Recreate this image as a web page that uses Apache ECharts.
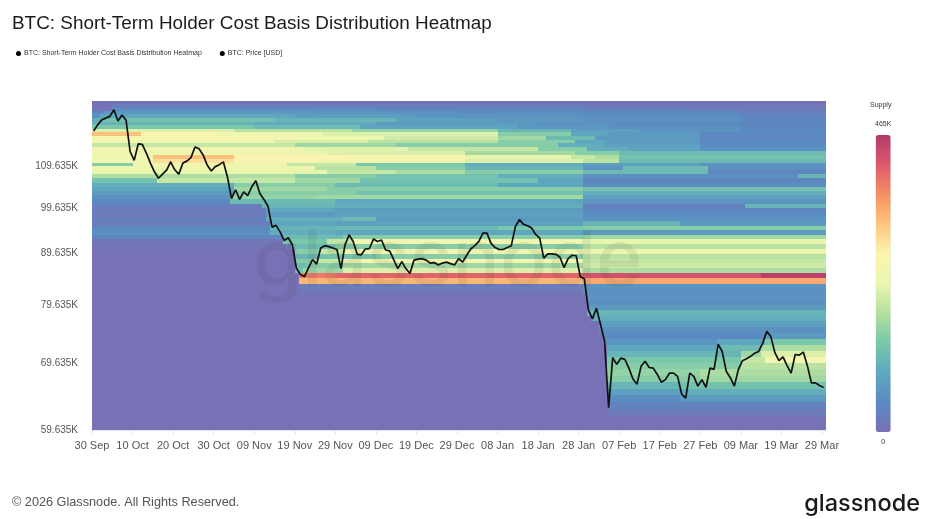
<!DOCTYPE html>
<html><head><meta charset="utf-8">
<script src="https://cdn.jsdelivr.net/npm/echarts@6/dist/echarts.min.js"></script>
<style>html,body{margin:0;padding:0;background:#fff}#c{width:934px;height:519px}</style>
</head><body><div id="c"></div>
<script>
// ---- data ----
const xTickLabels = ['30 Sep','10 Oct','20 Oct','30 Oct','09 Nov','19 Nov','29 Nov','09 Dec','19 Dec','29 Dec',
  '08 Jan','18 Jan','28 Jan','07 Feb','17 Feb','27 Feb','09 Mar','19 Mar','29 Mar'];
const yTicks = [59635, 69635, 79635, 89635, 99635, 109635];
const dayCount = 181;            // daily columns from 30 Sep
const binFirst = 59635;          // lowest price bin edge (USD)
const binWidth = 1000;           // price bin size (USD)
const supplyMax = 465000;

// BTC price, thousands of USD, one per day
const priceK = [
 119.0,120.7,122.1,122.6,123.1,125.0,121.8,123.5,122.0,113.5,
 111.2,115.5,115.4,113.1,110.5,108.3,106.7,107.7,108.7,110.8,
 108.8,107.7,110.5,111.0,111.9,114.7,114.2,112.6,110.0,108.5,
 109.6,110.1,110.8,107.0,101.8,103.9,101.6,103.4,102.5,104.6,
 106.1,103.0,101.6,100.0,95.3,95.7,94.2,92.4,93.0,91.5,
 86.7,85.4,85.0,86.8,88.4,87.5,90.8,91.3,91.1,90.8,
 90.5,86.6,91.5,93.6,92.2,89.5,89.4,90.6,90.7,92.7,
 92.2,92.5,90.4,90.2,88.4,86.6,88.0,86.6,85.6,88.3,
 88.5,88.6,88.3,87.7,87.8,87.3,87.7,87.9,87.6,87.3,
 88.6,87.9,89.3,90.6,91.3,92.2,94.0,94.0,91.8,90.9,
 90.5,90.5,90.9,91.3,95.4,97.0,95.9,95.6,95.1,93.7,
 92.9,88.7,89.6,89.6,89.5,88.9,86.8,88.6,89.3,89.2,
 85.0,84.6,78.7,77.1,79.0,76.1,73.2,62.8,70.5,69.4,
 70.4,70.2,68.8,67.1,66.3,69.1,69.9,68.9,68.8,67.8,
 66.6,67.0,68.0,68.0,67.5,64.8,64.2,68.0,67.5,66.0,
 67.0,65.8,68.8,68.6,72.7,71.5,68.3,67.3,66.0,68.6,
 70.0,70.3,70.7,71.2,71.5,72.9,74.9,74.0,71.3,70.0,
 70.6,69.2,68.0,71.0,70.9,71.4,69.2,66.5,66.5,66.1,65.8
];

// STH supply per price bin (thousands of BTC), as runs: [firstDay, value] held until the next run
// index 0 = bin 59.6K-60.6K ... index 67 = bin 126.6K-127.6K
const supplyRuns = [
 [[0,5]],                                   // 59.6
 [[0,5]],                                   // 60.6
 [[0,5],[127,20]],                          // 61.6
 [[0,5],[127,35]],                          // 62.6
 [[0,5],[127,50],[145,70]],                 // 63.6
 [[0,5],[127,80],[145,100]],                // 64.6
 [[0,5],[127,110],[145,130]],               // 65.6
 [[0,5],[127,150],[150,170]],               // 66.6
 [[0,5],[127,160],[150,180]],               // 67.6
 [[0,5],[127,150],[160,190]],               // 68.6
 [[0,5],[127,140],[160,200],[166,260]],     // 69.6
 [[0,5],[127,110],[160,170],[165,220]],     // 70.6
 [[0,5],[127,90],[154,120],[165,180]],      // 71.6
 [[0,5],[126,60],[154,90],[166,140]],       // 72.6
 [[0,5],[126,45],[166,70]],                 // 73.6
 [[0,5],[125,55]],                          // 74.6
 [[0,5],[125,80]],                          // 75.6
 [[0,5],[123,100]],                         // 76.6
 [[0,5],[122,110]],                         // 77.6
 [[0,5],[122,70]],                          // 78.6
 [[0,5],[122,55]],                          // 79.6
 [[0,5],[122,60]],                          // 80.6
 [[0,5],[51,15],[121,55]],                  // 81.6
 [[0,5],[51,25],[121,60]],                  // 82.6
 [[0,5],[51,340],[121,350]],                // 83.6
 [[0,5],[51,390],[60,410],[121,430],[165,455]], // 84.6
 [[0,5],[50,130],[52,170],[62,220],[121,180]],  // 85.6
 [[0,5],[50,120],[53,150],[62,170],[121,210]],  // 86.6
 [[0,5],[50,150],[54,200],[62,260],[121,200]],  // 87.6
 [[0,5],[50,110],[56,130],[70,150],[121,190]],  // 88.6
 [[0,5],[50,150],[56,200],[62,245],[121,240]],  // 89.6
 [[0,10],[49,120],[60,150],[121,190]],      // 90.6
 [[0,10],[47,140],[58,200],[64,250],[121,230]], // 91.6
 [[0,40],[47,120],[62,150],[121,170]],      // 92.6
 [[0,55],[44,100],[60,90],[121,70]],        // 93.6
 [[0,45],[44,110],[60,120],[100,140],[121,150]], // 94.6
 [[0,25],[44,90],[60,80],[121,110],[145,70]],  // 95.6
 [[0,30],[43,100],[62,120],[70,70],[121,60]],  // 96.6
 [[0,20],[43,70],[60,80],[121,50]],         // 97.6
 [[0,25],[43,90],[60,70],[121,40]],         // 98.6
 [[0,25],[42,110],[60,100],[121,30],[161,110]], // 99.6
 [[0,45],[34,120],[60,90],[121,60]],        // 100.6
 [[0,60],[34,160],[55,170],[121,80]],       // 101.6
 [[0,70],[35,150],[65,130],[121,100]],      // 102.6
 [[0,90],[35,170],[58,150],[121,130]],      // 103.6
 [[0,100],[35,150],[60,120],[100,90],[121,50]], // 104.6
 [[0,130],[16,200],[50,170],[66,130],[110,90],[121,40]], // 105.6
 [[0,180],[50,150],[70,130],[100,100],[121,55],[174,110]], // 106.6
 [[0,230],[58,200],[75,180],[92,150],[121,120],[152,40]], // 107.6
 [[0,240],[55,190],[70,150],[92,110],[121,60],[131,120],[152,55]], // 108.6
 [[0,150],[10,250],[48,200],[65,140],[92,100],[121,80],[150,60]], // 109.6
 [[0,250],[15,300],[35,270],[56,255],[92,220],[121,190],[130,120]], // 110.6
 [[0,250],[15,330],[35,280],[63,260],[92,230],[118,200],[124,180],[130,130]], // 111.6
 [[0,240],[58,220],[92,175],[119,150],[130,120]], // 112.6
 [[0,250],[52,225],[78,200],[110,150],[122,100],[132,85],[150,55]], // 113.6
 [[0,200],[50,170],[75,150],[115,100],[126,80],[150,50]], // 114.6
 [[0,240],[45,215],[68,190],[100,150],[119,90],[127,70],[150,45]], // 115.6
 [[0,260],[50,235],[72,210],[100,170],[112,120],[124,70],[150,40]], // 116.6
 [[0,330],[12,280],[30,250],[57,220],[100,150],[118,90],[127,70],[150,45]], // 117.6
 [[0,220],[35,190],[64,160],[100,110],[118,80],[135,60],[160,45]], // 118.6
 [[0,140],[40,120],[66,85],[105,65],[128,55],[160,40]], // 119.6
 [[0,110],[40,95],[70,70],[110,55],[130,45],[160,35]],  // 120.6
 [[0,100],[2,130],[45,110],[75,80],[100,65],[121,55],[160,40]], // 121.6
 [[0,60],[2,90],[50,75],[80,60],[121,50],[160,35]], // 122.6
 [[0,40],[3,70],[55,60],[90,50],[121,45],[160,30]], // 123.6
 [[0,10],[5,50],[70,40],[121,30],[150,20]], // 124.6
 [[0,5],[5,25],[121,15]],                   // 125.6
 [[0,5]]                                    // 126.6
];

const supplyColors = ['#7a6fb3','#5a8bc2','#5fa8bf','#78c8aa','#b5e0a1','#eaf6ae',
  '#fbf4b0','#fdc67f','#f58f62','#dd5a6b','#b2396b'];

// ---- build library inputs ----
const cells = [];
supplyRuns.forEach((runs, b) => {
  const lo = binFirst + b * binWidth, hi = lo + binWidth;
  runs.forEach((r, k) => {
    const end = k + 1 < runs.length ? runs[k + 1][0] : dayCount;
    cells.push([r[0], end, lo, hi, r[1] * 1000]);
  });
});
const priceData = priceK.map((p, i) => [i + 0.4, p * 1000]);

const heatName = 'BTC: Short-Term Holder Cost Basis Distribution Heatmap';
const priceName = 'BTC: Price [USD]';

const chart = echarts.init(document.getElementById('c'), null, {renderer: 'canvas'});
chart.setOption({
  animation: false,
  backgroundColor: '#ffffff',
  textStyle: {fontFamily: '"Liberation Sans", Arial, sans-serif'},
  title: {
    text: 'BTC: Short-Term Holder Cost Basis Distribution Heatmap',
    left: 7, top: 9,
    textStyle: {fontSize: 18.9, fontWeight: 'normal', color: '#1c1c1c', fontFamily: '"Liberation Sans", Arial, sans-serif'}
  },
  legend: {
    left: 11, top: 45, icon: 'circle', itemWidth: 5, itemHeight: 5, itemGap: 18,
    textStyle: {fontSize: 7, color: '#333', padding: [0, 0, 0, -2]},
    data: [{name: heatName, itemStyle: {color: '#000'}}, {name: priceName, itemStyle: {color: '#000'}}],
    selectedMode: false
  },
  grid: {left: 92, right: 108, top: 100.7, bottom: 89, containLabel: false},
  xAxis: {
    type: 'value', min: 0, max: dayCount, interval: 10,
    axisLine: {show: true, lineStyle: {color: '#e3e3e3'}},
    axisTick: {show: true, length: 4, lineStyle: {color: '#e3e3e3'}},
    splitLine: {show: false},
    axisLabel: {
      color: '#555', fontSize: 11, margin: 10, showMaxLabel: false,
      formatter: v => (v % 10 === 0 && xTickLabels[v / 10]) ? xTickLabels[v / 10] : ''
    }
  },
  yAxis: {
    type: 'log', logBase: 10, min: binFirst, max: binFirst + supplyRuns.length * binWidth,
    axisLine: {show: false}, axisTick: {show: false}, splitLine: {show: false},
    axisLabel: {
      customValues: yTicks, color: '#555', fontSize: 10, margin: 14,
      formatter: v => (v / 1000).toFixed(3) + 'K'
    }
  },
  visualMap: {
    type: 'continuous', min: 0, max: supplyMax, dimension: 4, seriesIndex: 0,
    calculable: false, hoverLink: false, realtime: false,
    orient: 'vertical', left: 860, top: 106, itemWidth: 15, itemHeight: 297,
    text: ['465K', '0'], textGap: 7, textStyle: {fontSize: 7, color: '#333'},
    inRange: {color: supplyColors}
  },
  graphic: [
    {type: 'text', left: 870, top: 102, style: {text: 'Supply', fontSize: 7, fill: '#333'}},
    {type: 'text', x: 448, y: 262, z: 50, silent: true,
      style: {text: 'glassnode', font: '500 79px Inter, sans-serif', fill: 'rgba(70,70,70,0.09)',
        textAlign: 'center', textVerticalAlign: 'middle'}},
    {type: 'text', left: 12, top: 496, style: {text: '\u00a9 2026 Glassnode. All Rights Reserved.', fontSize: 12.7, fill: '#555', fontFamily: '"Liberation Sans", Arial, sans-serif'}},
    {type: 'text', right: 14, top: 492, style: {text: 'glassnode', font: '500 23.5px Inter, sans-serif', fill: '#1a1a1a'}}
  ],
  series: [
    {
      name: heatName, type: 'custom', data: cells, silent: true,
      itemStyle: {color: '#000'},
      encode: {x: [0, 1], y: [2, 3]},
      renderItem: (params, api) => {
        const a = api.coord([api.value(0), api.value(3)]);
        const b = api.coord([api.value(1), api.value(2)]);
        const x1 = Math.round(a[0]), x2 = Math.round(b[0]);
        const y1 = Math.round(a[1]), y2 = Math.round(b[1]);
        return {type: 'rect', shape: {x: x1, y: y1, width: x2 - x1, height: y2 - y1},
          style: {fill: api.visual('color')}};
      }
    },
    {
      name: priceName, type: 'line', data: priceData, symbol: 'none', z: 100, silent: true,
      itemStyle: {color: '#000'}, lineStyle: {color: '#111', width: 1.7}
    }
  ]
});
</script></body></html>
